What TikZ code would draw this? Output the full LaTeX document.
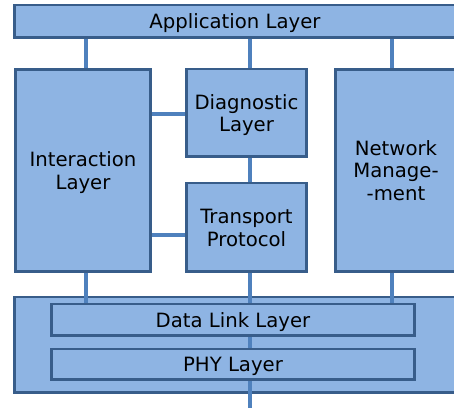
\documentclass[tikz,border=0pt]{standalone}
\usepackage{fontspec}
\setmainfont{DejaVu Sans}
\usetikzlibrary{positioning}

\definecolor{boxfill}{HTML}{8EB4E3}
\definecolor{boxline}{HTML}{385D8A}
\definecolor{linkline}{HTML}{4F81BD}

\begin{document}
\begin{tikzpicture}[
  x=0.02cm, y=-0.02cm,
  layerbox/.style={draw=boxline, fill=boxfill, line width=1.7pt, inner sep=0pt,
    align=center, text depth=-1pt, font=\fontsize{11.2}{13}\selectfont},
  link/.style={draw=linkline, line width=2.2pt}
]
  \clip (0,0) rectangle (454,408);
  % upper row
  \node[layerbox, minimum width=8.84cm, minimum height=0.66cm] (app) at (235,21.5) {Application Layer};
  \node[layerbox, minimum width=2.72cm, minimum height=4.06cm] (inter) at (83,170.5) {Interaction\\Layer};
  \node[layerbox, minimum width=2.42cm, minimum height=1.76cm] (diag) at (246.5,113) {Diagnostic\\Layer};
  \node[layerbox, minimum width=2.42cm, minimum height=1.78cm] (trans) at (246.5,227.5) {Transport\\Protocol};
  \node[layerbox, minimum width=2.44cm, minimum height=4.06cm] (net) at (396,170.5) {Network\\Manage-\\-ment};
  % lower block
  \node[layerbox, minimum width=8.84cm, minimum height=1.92cm] (base) at (235,345) {};
  \node[layerbox, minimum width=7.28cm, minimum height=0.64cm] (dll) at (233,320) {Data Link Layer};
  \node[layerbox, minimum width=7.28cm, minimum height=0.62cm] (phy) at (233,364.5) {PHY Layer};
  % columns of the connectors
  \coordinate (colL) at (86,0);
  \coordinate (colM) at (250,0);
  \coordinate (colR) at (392,0);
  \coordinate (bus) at (250,410);
  \draw[link] (app.south -| colL) -- (inter.north -| colL);
  \draw[link] (app.south -| colM) -- (diag.north -| colM);
  \draw[link] (app.south -| colR) -- (net.north -| colR);
  \draw[link] (diag.south -| colM) -- (trans.north -| colM);
  \draw[link] (inter.east |- 0,114) -- (diag.west |- 0,114);
  \draw[link] (inter.east |- 0,235) -- (trans.west |- 0,235);
  \draw[link] (inter.south -| colL) -- (dll.north -| colL);
  \draw[link] (trans.south -| colM) -- (dll.north -| colM);
  \draw[link] (net.south -| colR) -- (dll.north -| colR);
  \draw[link] (dll.south -| colM) -- (phy.north -| colM);
  \draw[link] (phy.south -| colM) -- (bus);
\end{tikzpicture}
\end{document}
